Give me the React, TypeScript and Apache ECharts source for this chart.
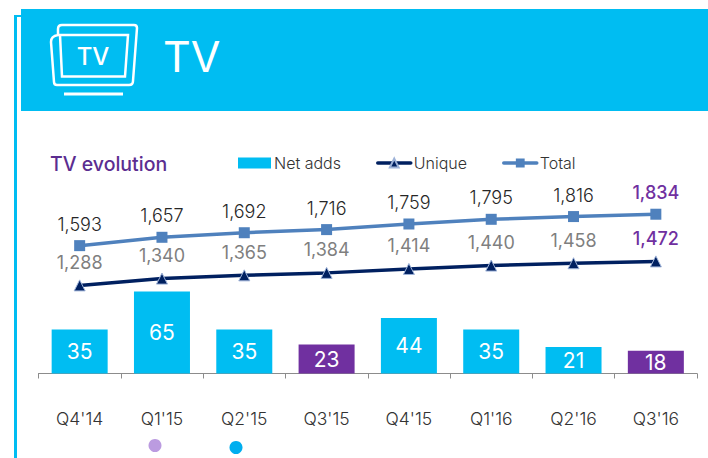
import React, { useEffect, useRef } from "react";
import * as echarts from "echarts";

const categories = ["Q4'14", "Q1'15", "Q2'15", "Q3'15", "Q4'15", "Q1'16", "Q2'16", "Q3'16"];
const netAdds = [35, 65, 35, 23, 44, 35, 21, 18];
const unique = [1288, 1340, 1365, 1384, 1414, 1440, 1458, 1472];
const total = [1593, 1657, 1692, 1716, 1759, 1795, 1816, 1834];
const highlightedBars = ["Q3'15", "Q3'16"];
const highlightedPoints = ["Q3'16"];

const FONT = "Inter, 'Open Sans', sans-serif";
const CYAN = "#00BDF2";
const PURPLE = "#7030A0";
const NAVY = "#002060";
const BLUE = "#4F81BD";

echarts.graphic.registerShape(
  "tvFrame",
  (echarts.graphic as any).extendPath(
    "M58 35 V29 Q58 25 62 25 H134 Q137 25 137 28 L133 81 Q133 85 129 85 H57 Q54 85 54 82 L51 42 Q51 36 58 35 H128 L125 76.5 H62 L60 35",
    {}
  )
);

export default function App() {
  const ref = useRef<HTMLDivElement>(null);
  useEffect(() => {
    const chart = echarts.init(ref.current!, null, { renderer: "svg" });
    chart.setOption({
      animation: false,
      backgroundColor: "#ffffff",
      textStyle: { fontFamily: FONT },
      grid: { left: 38.5, right: 11, top: 160, bottom: 84.5, containLabel: false },
      legend: {
        left: 238,
        top: 155,
        padding: 0,
        itemWidth: 33,
        itemHeight: 11,
        itemGap: 35,
        lineStyle: { width: 3.5, cap: "round" },
        textStyle: { fontSize: 16, color: "#333333", fontFamily: FONT, fontWeight: 300, padding: [0, 0, 0, -2] },
        data: [{ name: "Net adds", icon: "rect" }, { name: "Unique" }, { name: "Total" }],
      },
      xAxis: {
        type: "category",
        data: categories,
        axisLine: { lineStyle: { color: "#8C8C8C", width: 1 } },
        axisTick: { show: true, alignWithLabel: false, length: 5, lineStyle: { color: "#8C8C8C" } },
        axisLabel: { margin: 36, fontSize: 17.5, color: "#333333", fontFamily: FONT, fontWeight: 300, interval: 0 },
      },
      yAxis: [
        { type: "value", min: 0, max: 169.4, show: false },
        { type: "value", min: 612, max: 2250, show: false },
      ],
      series: [
        {
          name: "Net adds",
          type: "bar",
          barWidth: 56,
          itemStyle: { color: CYAN },
          data: netAdds.map((v, i) => ({
            value: v,
            itemStyle: { color: highlightedBars.includes(categories[i]) ? PURPLE : CYAN },
          })),
          label: {
            show: true,
            position: "inside",
            color: "#ffffff",
            fontSize: 21,
            fontFamily: FONT,
          },
        },
        {
          name: "Unique",
          type: "line",
          yAxisIndex: 1,
          symbol: "triangle",
          symbolSize: 11,
          lineStyle: { color: NAVY, width: 3.5 },
          itemStyle: { color: NAVY, borderColor: "#9DB2D8", borderWidth: 1 },
          data: unique.map((v, i) => {
            const hi = highlightedPoints.includes(categories[i]);
            return {
              value: v,
              label: {
                color: hi ? PURPLE : "#7F7F7F",
                fontWeight: hi ? 500 : 400,
              },
            };
          }),
          label: {
            show: true,
            position: "top",
            distance: 8,
            fontSize: 18,
            fontFamily: FONT,
            formatter: (p: any) => p.value.toLocaleString("en-US"),
          },
        },
        {
          name: "Total",
          type: "line",
          yAxisIndex: 1,
          symbol: "rect",
          symbolSize: 11,
          lineStyle: { color: BLUE, width: 3.5 },
          itemStyle: { color: BLUE },
          data: total.map((v, i) => {
            const hi = highlightedPoints.includes(categories[i]);
            return {
              value: v,
              label: {
                color: hi ? PURPLE : "#262626",
                fontWeight: hi ? 500 : 300,
              },
            };
          }),
          label: {
            show: true,
            position: "top",
            distance: 7,
            fontSize: 18,
            fontFamily: FONT,
            formatter: (p: any) => p.value.toLocaleString("en-US"),
          },
        },
      ],
      graphic: [
        { type: "rect", shape: { x: 14, y: 15, width: 3, height: 443 }, style: { fill: CYAN }, silent: true },
        { type: "rect", shape: { x: 14, y: 15, width: 8, height: 2 }, style: { fill: CYAN }, silent: true },
        { type: "rect", shape: { x: 21, y: 9, width: 687, height: 102 }, style: { fill: CYAN }, silent: true },
        {
          type: "tvFrame",
          x: 0,
          y: 0,
          style: { fill: "none", stroke: "#ffffff", lineWidth: 2.5 },
          silent: true,
        },
        { type: "line", shape: { x1: 64, y1: 94, x2: 123, y2: 94 }, style: { stroke: "#ffffff", lineWidth: 3 }, silent: true },
        {
          type: "text",
          x: 93,
          y: 56,
          style: { text: "TV", fill: "#ffffff", font: `500 24px ${FONT}`, textAlign: "center", textVerticalAlign: "middle" },
          silent: true,
        },
        {
          type: "text",
          x: 163,
          y: 56,
          style: { text: "TV", fill: "#ffffff", font: `400 43px ${FONT}`, textAlign: "left", textVerticalAlign: "middle" },
          silent: true,
        },
        {
          type: "text",
          x: 50,
          y: 164,
          style: { text: "TV evolution", fill: "#5B2D90", font: `500 19.5px ${FONT}`, textAlign: "left", textVerticalAlign: "middle" },
          silent: true,
        },
        { type: "circle", shape: { cx: 155, cy: 445.5, r: 6.5 }, style: { fill: "#BB9BE0" }, silent: true },
        { type: "circle", shape: { cx: 236, cy: 447.5, r: 6.5 }, style: { fill: "#00AEEF" }, silent: true },
      ],
    });
    return () => chart.dispose();
  }, []);
  return <div ref={ref} style={{ position: "absolute", left: 0, top: 0, width: 708, height: 458 }} />;
}
